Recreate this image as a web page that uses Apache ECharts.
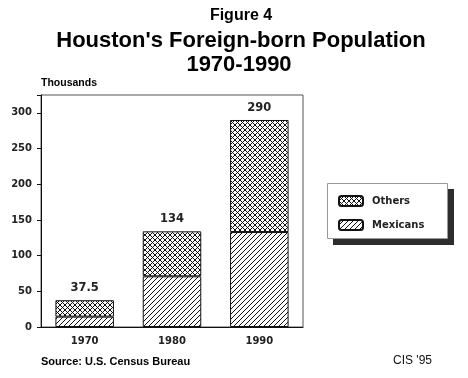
<!DOCTYPE html>
<html>
<head>
<meta charset="utf-8">
<script src="https://cdn.jsdelivr.net/npm/echarts@6/dist/echarts.min.js"></script>
<style>html,body{margin:0;padding:0;background:#fff}#c{width:468px;height:378px}</style>
</head>
<body>
<div id="c"></div>
<script>
const years = ['1970', '1980', '1990'];
const mexicans = [14.5, 71, 133];
const others = [23, 63, 157];
const totals = ['37.5', '134', '290'];

function pattern(kind) {
  const s = 5;
  const c = document.createElement('canvas');
  c.width = s; c.height = s;
  const g = c.getContext('2d');
  g.fillStyle = '#fff'; g.fillRect(0, 0, s, s);
  g.strokeStyle = '#111'; g.lineWidth = 1;
  g.beginPath();
  g.moveTo(-1, s + 1); g.lineTo(s + 1, -1);
  g.moveTo(-1, 1); g.lineTo(1, -1);
  g.moveTo(s - 1, s + 1); g.lineTo(s + 1, s - 1);
  if (kind === 'cross') {
    g.moveTo(-1, -1); g.lineTo(s + 1, s + 1);
    g.moveTo(s - 1, -1); g.lineTo(s + 1, 1);
    g.moveTo(-1, s - 1); g.lineTo(1, s + 1);
  }
  g.stroke();
  return { image: c, repeat: 'repeat' };
}

const chart = echarts.init(document.getElementById('c'));
chart.setOption({
  animation: false,
  backgroundColor: '#fff',
  grid: { left: 41, right: 165, top: 95, bottom: 51, show: true, borderColor: '#555', borderWidth: 1 },
  legend: {
    orient: 'vertical', left: 338, top: 195,
    data: ['Others', 'Mexicans'],
    itemWidth: 24, itemHeight: 10, itemGap: 12,
    padding: 0,
    textStyle: { fontFamily: 'DejaVu Sans', fontSize: 10, fontWeight: 'bold', color: '#222', padding: [0, 0, 0, 4] }
  },
  xAxis: {
    type: 'category', data: years,
    axisLine: { lineStyle: { color: '#111' } },
    axisTick: { alignWithLabel: true, length: 3, lineStyle: { color: '#111' } },
    axisLabel: { fontFamily: 'DejaVu Sans', fontSize: 10, fontWeight: 'bold', color: '#222', margin: 9 }
  },
  yAxis: {
    type: 'value', min: 0, max: 325, interval: 50,
    splitLine: { show: false },
    axisLine: { show: true, lineStyle: { color: '#111' } },
    axisTick: { show: true, length: 4, lineStyle: { color: '#111' } },
    axisLabel: {
      fontFamily: 'DejaVu Sans', fontSize: 10, fontWeight: 'bold', color: '#222', margin: 9,
      formatter: v => (v % 50 === 0 ? String(v) : '')
    }
  },
  series: [
    {
      name: 'Mexicans', type: 'bar', stack: 't', data: mexicans, barWidth: '67%',
      itemStyle: { color: pattern('stripe'), borderColor: '#111', borderWidth: 1 }
    },
    {
      name: 'Others', type: 'bar', stack: 't', data: others, barWidth: '67%',
      itemStyle: { color: pattern('cross'), borderColor: '#111', borderWidth: 1 },
      label: {
        show: true, position: 'top', distance: 6,
        formatter: p => totals[p.dataIndex],
        fontFamily: 'DejaVu Sans', fontSize: 11.5, fontWeight: 'bold', color: '#222'
      }
    }
  ],
  graphic: [
    { type: 'rect', z: -1, shape: { x: 333, y: 189, width: 121, height: 56 }, style: { fill: '#2e2e2e' } },
    { type: 'rect', z: -1, shape: { x: 327.5, y: 183.5, width: 120, height: 55 }, style: { fill: '#fff', stroke: '#999', lineWidth: 1 } },
    { type: 'text', style: { x: 241, y: 8, textAlign: 'center', text: 'Figure 4', font: 'bold 16px "Liberation Sans", Arial', fill: '#000' } },
    { type: 'text', style: { x: 241, y: 30, textAlign: 'center', text: "Houston's Foreign-born Population", font: 'bold 22px "Liberation Sans", Arial', fill: '#000' } },
    { type: 'text', style: { x: 239, y: 54, textAlign: 'center', text: '1970-1990', font: 'bold 22px "Liberation Sans", Arial', fill: '#000' } },
    { type: 'text', left: 41, top: 78, style: { text: 'Thousands', font: 'bold 10.5px "Liberation Sans", Arial', fill: '#000' } },
    { type: 'text', left: 41, top: 356, style: { text: 'Source: U.S. Census Bureau', font: 'bold 11px "Liberation Sans", Arial', fill: '#000' } },
    { type: 'text', left: 393, top: 355, style: { text: "CIS '95", font: '12px "Liberation Sans", Arial', fill: '#111' } }
  ]
});
</script>
</body>
</html>
